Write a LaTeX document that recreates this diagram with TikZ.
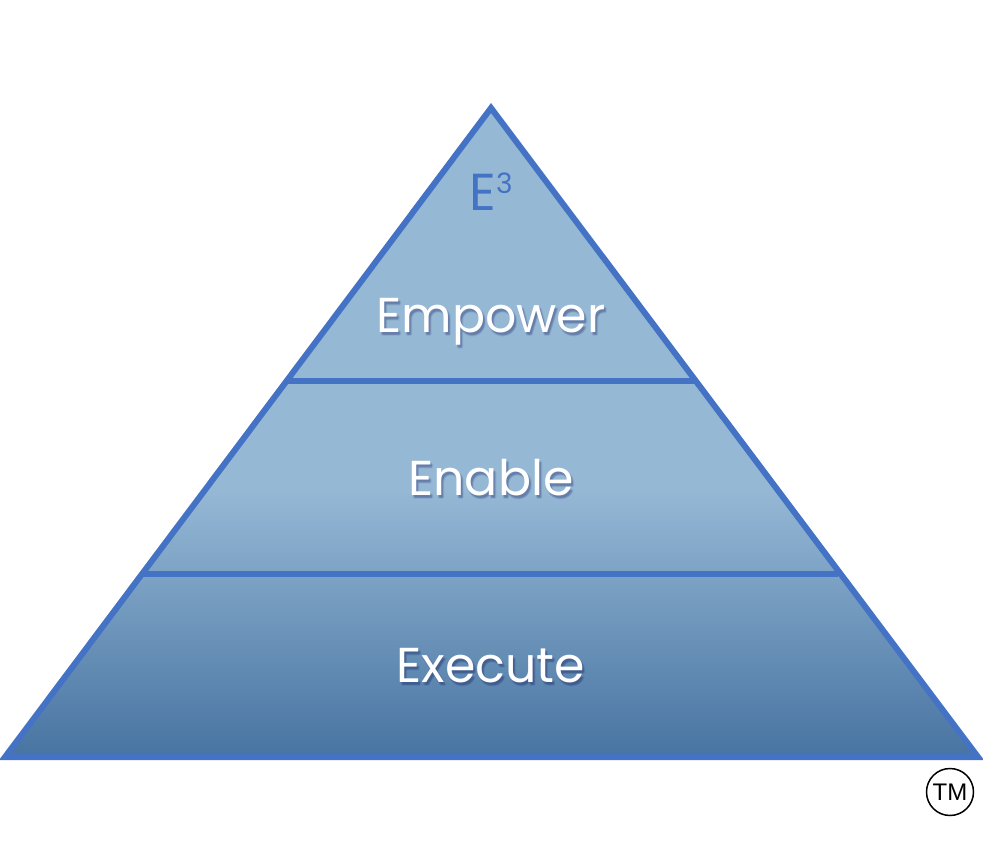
\documentclass[tikz,border=0pt]{standalone}
\usepackage{fontspec}
\setmainfont{Poppins}
\newfontfamily\tmfont{Liberation Sans}
\definecolor{edge}{HTML}{4472C4}
\definecolor{toplight}{HTML}{95B8D5}
\definecolor{botdark}{HTML}{4773A1}
\begin{document}
\begin{tikzpicture}[x=1pt,y=-1pt,
  lbl/.style={text=white,font=\fontsize{49}{49}\selectfont,inner sep=0pt},
  shadowlbl/.style={text=black!70!blue,opacity=0.07,font=\fontsize{49}{49}\selectfont,inner sep=0pt},
  tierline/.style={draw=edge,line width=6pt}]
\useasboundingbox (0,0) rectangle (983,864);
\coordinate (apex) at (491,108);
\coordinate (bl) at (5,757);
\coordinate (br) at (978,757);
\begin{scope}
  \clip (apex) -- (br) -- (bl) -- cycle;
  \fill[toplight] (0,100) rectangle (983,492);
  \shade[top color=toplight,bottom color=botdark] (0,490) rectangle (983,760);
\end{scope}
\coordinate (l1) at (287,381);
\coordinate (r1) at (695,381);
\coordinate (l2) at (143,574);
\coordinate (r2) at (838,574);
\draw[tierline] (l1) -- (r1);
\draw[tierline] (l2) -- (r2);
\draw[edge,line width=6pt,line join=miter] (apex) -- (br) -- (bl) -- cycle;
\node[text=edge,font=\fontsize{52}{52}\selectfont,inner sep=0pt,anchor=base] (e3) at (491,210) {E\raisebox{17pt}{\fontsize{28}{28}\selectfont 3}};
\foreach \dx/\dy in {1/3,3/3,2/2,2/4,2/3}{
  \node[shadowlbl] at (491+\dx,322+\dy) {Empower};
  \node[shadowlbl] at (491+\dx,478+\dy) {Enable};
  \node[shadowlbl] at (491+\dx,666+\dy) {Execute};
}
\node[lbl] (t1) at (491,322) {Empower};
\node[lbl] (t2) at (491,478) {Enable};
\node[lbl] (t3) at (491,666) {Execute};
\node[draw=black,line width=1.5pt,circle,minimum size=47pt,inner sep=0pt,font=\tmfont\fontsize{24}{24}\selectfont] (tm) at (950,792) {TM};
\end{tikzpicture}
\end{document}
